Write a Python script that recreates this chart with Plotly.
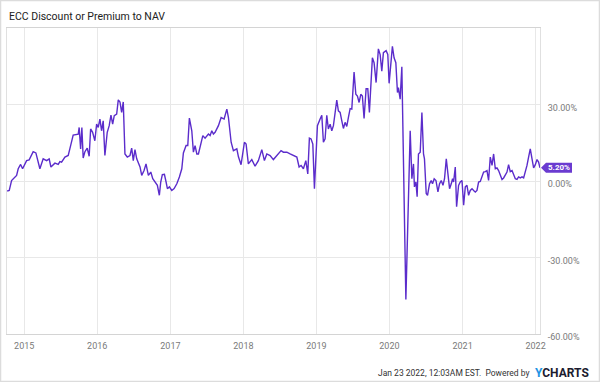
import pandas as pd
import plotly.graph_objects as go

# ---- data (decimal years, premium/discount to NAV in %) ----
years = [
    2014.767, 2014.795, 2014.827, 2014.873, 2014.896, 2014.918, 2014.951, 2014.978, 2015.010, 2015.033,
    2015.068, 2015.123, 2015.160, 2015.215, 2015.260, 2015.307, 2015.342, 2015.366, 2015.421, 2015.466,
    2015.489, 2015.512, 2015.558, 2015.603, 2015.636, 2015.671, 2015.740, 2015.753, 2015.773, 2015.790,
    2015.808, 2015.832, 2015.863, 2015.890, 2015.910, 2015.937, 2015.968, 2015.992, 2016.014, 2016.037,
    2016.060, 2016.082, 2016.105, 2016.137, 2016.164, 2016.188, 2016.211, 2016.233, 2016.266, 2016.288,
    2016.311, 2016.334, 2016.356, 2016.379, 2016.411, 2016.448, 2016.471, 2016.493, 2016.516, 2016.540,
    2016.585, 2016.608, 2016.640, 2016.667, 2016.699, 2016.732, 2016.759, 2016.790, 2016.822, 2016.849,
    2016.868, 2016.890, 2016.918, 2016.941, 2016.959, 2016.986, 2017.019, 2017.051, 2017.088, 2017.123,
    2017.156, 2017.178, 2017.215, 2017.238, 2017.260, 2017.293, 2017.315, 2017.338, 2017.362, 2017.384,
    2017.407, 2017.444, 2017.475, 2017.499, 2017.521, 2017.544, 2017.567, 2017.589, 2017.612, 2017.658,
    2017.695, 2017.736, 2017.773, 2017.795, 2017.832, 2017.863, 2017.910, 2017.932, 2017.968, 2018.014,
    2018.037, 2018.068, 2018.115, 2018.160, 2018.205, 2018.252, 2018.288, 2018.321, 2018.366, 2018.411,
    2018.444, 2018.516, 2018.548, 2018.595, 2018.640, 2018.685, 2018.732, 2018.763, 2018.790, 2018.822,
    2018.855, 2018.882, 2018.904, 2018.927, 2018.951, 2018.973, 2019.014, 2019.051, 2019.074, 2019.096,
    2019.119, 2019.142, 2019.164, 2019.188, 2019.211, 2019.233, 2019.279, 2019.301, 2019.325, 2019.348,
    2019.370, 2019.393, 2019.416, 2019.438, 2019.462, 2019.485, 2019.516, 2019.540, 2019.562, 2019.585,
    2019.608, 2019.630, 2019.653, 2019.681, 2019.704, 2019.726, 2019.767, 2019.790, 2019.818, 2019.849,
    2019.873, 2019.896, 2019.918, 2019.955, 2019.978, 2019.996, 2020.019, 2020.041, 2020.064, 2020.088,
    2020.110, 2020.123, 2020.147, 2020.170, 2020.225, 2020.284, 2020.307, 2020.329, 2020.342, 2020.362,
    2020.379, 2020.397, 2020.421, 2020.444, 2020.466, 2020.479, 2020.503, 2020.521, 2020.548, 2020.571,
    2020.589, 2020.612, 2020.636, 2020.663, 2020.685, 2020.708, 2020.732, 2020.753, 2020.777, 2020.800,
    2020.822, 2020.845, 2020.863, 2020.877, 2020.900, 2020.918, 2020.945, 2020.968, 2020.992, 2021.014,
    2021.037, 2021.060, 2021.082, 2021.105, 2021.129, 2021.151, 2021.174, 2021.197, 2021.219, 2021.242,
    2021.266, 2021.288, 2021.311, 2021.334, 2021.356, 2021.379, 2021.403, 2021.425, 2021.448, 2021.471,
    2021.493, 2021.516, 2021.540, 2021.562, 2021.585, 2021.608, 2021.630, 2021.653, 2021.677, 2021.699,
    2021.722, 2021.745, 2021.767, 2021.790, 2021.814, 2021.836, 2021.859, 2021.882, 2021.904, 2021.927,
    2021.951, 2021.973, 2021.996, 2022.019, 2022.041, 2022.060,
]

premium_pct = [
    -3.9, -3.7, 0.2, 1.6, 2.2, 4.8, 6.5, 4.8, 6.4, 8.0,
    8.3, 11.5, 11.0, 4.8, 8.7, 8.0, 8.7, 5.5, 7.0, 6.5,
    7.6, 7.4, 9.4, 10.0, 13.9, 18.0, 18.4, 21.0, 12.6, 21.0,
    9.0, 11.5, 12.9, 9.7, 20.4, 19.1, 15.8, 22.3, 21.0, 24.3,
    19.7, 23.6, 10.0, 19.1, 21.7, 25.8, 22.3, 25.6, 26.2, 31.8,
    31.0, 26.9, 31.0, 10.6, 9.4, 10.0, 12.9, 8.0, 12.3, 8.7,
    5.5, 2.2, 4.1, 6.7, 2.2, 3.5, 0.9, -0.4, -1.7, -5.6,
    -0.4, 2.5, 2.6, -0.4, -3.0, -2.3, -3.7, -3.0, -1.1, 1.6,
    4.8, 11.0, 13.9, 13.9, 24.7, 19.7, 11.3, 13.9, 10.6, 10.6,
    13.2, 17.8, 16.8, 17.8, 18.4, 17.8, 19.7, 18.4, 19.1, 21.7,
    24.9, 24.3, 28.2, 24.9, 15.2, 11.9, 12.6, 9.5, 6.4, 15.2,
    14.5, 6.7, 8.4, 5.8, 8.0, 12.3, 8.0, 10.6, 10.0, 8.4,
    9.4, 11.9, 11.3, 11.3, 10.6, 10.0, 9.4, 5.5, 6.1, 4.8,
    8.0, 2.8, 16.8, 16.5, 14.5, -3.0, 21.7, 24.3, 25.8, 15.2,
    16.5, 25.8, 20.4, 22.3, 19.7, 21.7, 31.7, 27.5, 26.9, 23.6,
    20.6, 23.0, 21.4, 24.9, 28.4, 28.2, 42.7, 34.0, 33.3, 30.8,
    34.0, 33.3, 24.5, 36.2, 36.2, 26.9, 48.3, 46.4, 38.6, 51.8,
    49.6, 43.1, 50.3, 51.1, 49.6, 38.3, 47.0, 52.8, 48.3, 46.4,
    34.7, 36.6, 32.1, 44.8, -46.5, 19.7, 0.9, 6.7, -2.3, -0.4,
    -6.2, 10.6, 11.3, 26.9, 10.6, 8.7, -4.9, -5.6, -1.1, 0.2,
    -1.1, 0.9, 0.2, -4.3, -1.1, 0.2, -1.7, 0.9, 8.7, 2.2,
    -3.0, -1.1, 0.9, -0.4, 5.5, -10.1, -1.7, -0.4, 0.2, -9.5,
    -2.3, -1.7, -5.6, -3.7, -3.0, -3.7, -4.3, -3.7, -0.4, -0.2,
    1.6, 3.5, 3.7, 4.1, 0.2, 9.4, 6.1, 10.6, 4.8, 5.1,
    4.1, 2.2, 0.6, 1.2, 2.2, 3.5, 6.4, 3.7, 4.1, 2.2,
    0.9, 0.6, 1.6, 1.2, 1.6, 1.2, 3.5, 6.1, 9.4, 12.6,
    8.7, 5.1, 6.4, 8.4, 7.4, 5.2,
]

x_range = ["2014-10-07", "2022-01-23"]
y_range = [-60, 60]
xtick_vals = ["2015-01-01", "2016-01-01", "2017-01-01", "2018-01-01",
              "2019-01-01", "2020-01-01", "2021-01-01", "2022-01-01"]
xtick_text = ["2015", "2016", "2017", "2018", "2019", "2020", "2021", "2022"]
ytick_vals = [-60, -30, 0, 30]
ytick_text = ["-60.00%", "-30.00%", "0.00%", "30.00%"]
last_label = "5.20%"
title_text = "ECC Discount or Premium to NAV"
footer_text = "Jan 23 2022, 12:03AM EST.  Powered by"


def to_date(y):
    yr = int(y)
    start = pd.Timestamp(year=yr, month=1, day=1)
    end = pd.Timestamp(year=yr + 1, month=1, day=1)
    return start + (end - start) * (y - yr)


dates = [to_date(v) for v in years]

LINE = "#5b2ccb"
FONT = "Liberation Sans Narrow, Roboto, sans-serif"
GRID = "#e8e8e8"
TICK = "#7a7a7a"

fig = go.Figure()
fig.add_trace(go.Scatter(x=dates, y=premium_pct, mode="lines",
                         line=dict(color=LINE, width=1.4), hoverinfo="skip",
                         showlegend=False))

# plot-area geometry in pixels (for placing paper-referenced decorations)
L, R, T, B, W, H = 7, 60, 28, 48, 600, 382
pw, ph = W - L - R, H - T - B


def px_x(px):
    return (px - L) / pw


def px_y(py):
    return (H - B - py) / ph


fig.update_layout(
    width=W, height=H,
    margin=dict(l=L, r=R, t=T, b=B),
    paper_bgcolor="white", plot_bgcolor="white",
    font=dict(family=FONT, color=TICK, size=9),
    xaxis=dict(range=x_range, tickvals=xtick_vals, ticktext=xtick_text,
               showgrid=True, gridcolor=GRID, gridwidth=1,
               showline=True, linecolor="#d4d4d4", linewidth=1, mirror=True,
               zeroline=False, ticks="", ticklabelstandoff=3,
               tickfont=dict(size=9, color=TICK)),
    yaxis=dict(range=y_range, side="right", tickvals=ytick_vals, ticktext=ytick_text,
               showgrid=True, gridcolor=GRID, gridwidth=1,
               showline=True, linecolor="#e0e0e0", linewidth=1, mirror=True,
               zeroline=False, ticks="", ticklabelstandoff=5, ticklabelshift=3,
               tickfont=dict(size=9, color=TICK)),
)

# outer border
fig.add_shape(type="rect", xref="paper", yref="paper",
              x0=px_x(0.5), x1=px_x(599.5), y0=px_y(381.5), y1=px_y(0.5),
              line=dict(color="#dcdcdc", width=1.5), layer="below")

# last value flag
y_last = premium_pct[-1]
half = 5 / (ph / (y_range[1] - y_range[0]))
x_tip, x_box0, x_box1 = px_x(541), px_x(546), px_x(572)
fig.add_shape(type="path", xref="paper", yref="y",
              path=(f"M {x_tip} {y_last} L {x_box0} {y_last + half} L {x_box1} {y_last + half} "
                    f"L {x_box1} {y_last - half} L {x_box0} {y_last - half} Z"),
              fillcolor="#6a3bd0", line=dict(width=0))
fig.add_annotation(x=(x_box0 + x_box1) / 2, xref="paper", y=y_last, yref="y",
                   text=f"<b>{last_label}</b>", showarrow=False,
                   font=dict(family=FONT, size=8, color="white"),
                   xanchor="center", yanchor="middle")

# title
fig.add_annotation(x=0, xref="paper", y=px_y(17), yref="paper", text=title_text,
                   showarrow=False, xanchor="left", yanchor="middle",
                   font=dict(family=FONT, size=10.5, color="#222"))

# footer
fig.add_annotation(x=px_x(531), xref="paper", y=px_y(373), yref="paper", text=footer_text,
                   showarrow=False, xanchor="right", yanchor="middle",
                   font=dict(family=FONT, size=8.5, color="#333"))
fig.add_annotation(x=px_x(533), xref="paper", y=px_y(373), yref="paper",
                   text="<b><span style='color:#1d93e3'>Y</span>CHARTS</b>",
                   showarrow=False, xanchor="left", yanchor="middle",
                   font=dict(family="Roboto, sans-serif", size=12, color="#1b1b2f"))

fig.write_html("out.html", config={"displayModeBar": False},
               post_script="document.body.style.margin='0px';document.body.style.overflow='hidden';")
